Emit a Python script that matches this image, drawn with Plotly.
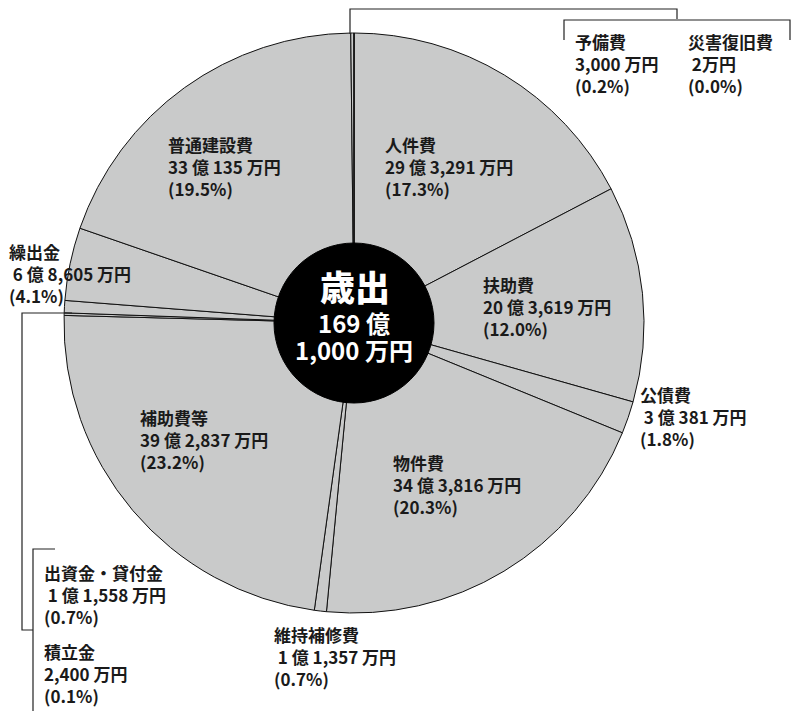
import plotly.graph_objects as go

W, H = 798, 711

# ---- data (万円) ----
categories = ["人件費", "扶助費", "公債費", "物件費", "維持補修費", "補助費等",
              "積立金", "出資金・貸付金", "繰出金", "普通建設費", "予備費", "災害復旧費"]
values = [293291, 203619, 30381, 343816, 11357, 392837,
          2400, 11558, 68605, 330135, 3000, 2]
amount_labels = ["29 億 3,291 万円", "20 億 3,619 万円", "&nbsp;3 億 381 万円", "34 億 3,816 万円",
                 "&nbsp;1 億 1,357 万円", "39 億 2,837 万円", "2,400 万円", "&nbsp;1 億 1,558 万円",
                 "&nbsp;6 億 8,605 万円", "33 億 135 万円", "3,000 万円", "&nbsp;2万円"]
percent_labels = ["17.3", "12.0", "1.8", "20.3", "0.7", "23.2",
                  "0.1", "0.7", "4.1", "19.5", "0.2", "0.0"]
total_title = "歳出"
total_lines = ["169 億", "1,000 万円"]

# label anchor positions (pixels, top-left)
label_pos = {
    "人件費": (383, 130), "扶助費": (481, 270), "公債費": (638, 380),
    "物件費": (391, 448), "維持補修費": (272, 620), "補助費等": (138, 403),
    "積立金": (42, 637), "出資金・貸付金": (42, 558), "繰出金": (7, 237),
    "普通建設費": (166, 130), "予備費": (573, 27), "災害復旧費": (686, 27),
}

FONT = "Noto Sans CJK JP"

def px(x, y):
    return x / W, 1 - y / H

cx, cy, R, r_in = 354, 323, 290, 80

fig = go.Figure()
fig.add_trace(go.Pie(
    labels=categories, values=values, sort=False, direction="clockwise",
    rotation=0, textinfo="none", hoverinfo="skip", showlegend=False,
    marker=dict(colors=["#c9caca"] * len(values), line=dict(color="#111111", width=1)),
    domain=dict(x=[(cx - R) / W, (cx + R) / W], y=[1 - (cy + R) / H, 1 - (cy - R) / H]),
))

shapes = []
x0, y1 = px(cx - r_in, cy - r_in)
x1, y0 = px(cx + r_in, cy + r_in)
shapes.append(dict(type="circle", xref="paper", yref="paper", x0=x0, y0=y0, x1=x1, y1=y1,
                   fillcolor="#000000", line=dict(color="#000000", width=1)))

def path(points):
    pts = [px(x, y) for x, y in points]
    d = "M " + " L ".join(f"{a},{b}" for a, b in pts)
    return dict(type="path", xref="paper", yref="paper", path=d,
                line=dict(color="#222222", width=1.2))

# leader lines
shapes.append(path([(350, 34), (350, 9), (677, 9), (677, 19)]))
shapes.append(path([(564, 40), (564, 20), (790, 20), (790, 40)]))
shapes.append(path([(72, 313), (22, 313), (22, 630), (33, 630)]))
shapes.append(path([(55, 549), (33, 549), (33, 711)]))

annotations = []
for cat, amt, pct in zip(categories, amount_labels, percent_labels):
    x, y = label_pos[cat]
    ax, ay = px(x, y)
    annotations.append(dict(
        x=ax, y=ay, xref="paper", yref="paper", xanchor="left", yanchor="top",
        align="left", showarrow=False,
        text=f"{cat}<br>{amt}<br>({pct}%)",
        font=dict(family=FONT, size=17, color="#1a1a1a", weight=700),
    ))

tx, ty = px(cx + 1, 285)
annotations.append(dict(x=tx, y=ty, xref="paper", yref="paper", showarrow=False,
                        text=total_title,
                        font=dict(family=FONT, size=35, color="white", weight=900)))
tx, ty = px(cx, 336)
big = "<span style='font-size:24px'>{}</span>"
annotations.append(dict(x=tx, y=ty, xref="paper", yref="paper", showarrow=False,
                        text="<br>".join(big.format(t) for t in total_lines),
                        font=dict(family=FONT, size=21, color="white", weight=700)))

fig.update_layout(
    width=W, height=H, margin=dict(l=0, r=0, t=0, b=0),
    paper_bgcolor="white", plot_bgcolor="white",
    shapes=shapes, annotations=annotations,
)
fig.write_html("out.html", config={"displayModeBar": False},
               post_script="document.body.style.margin='0px';")
